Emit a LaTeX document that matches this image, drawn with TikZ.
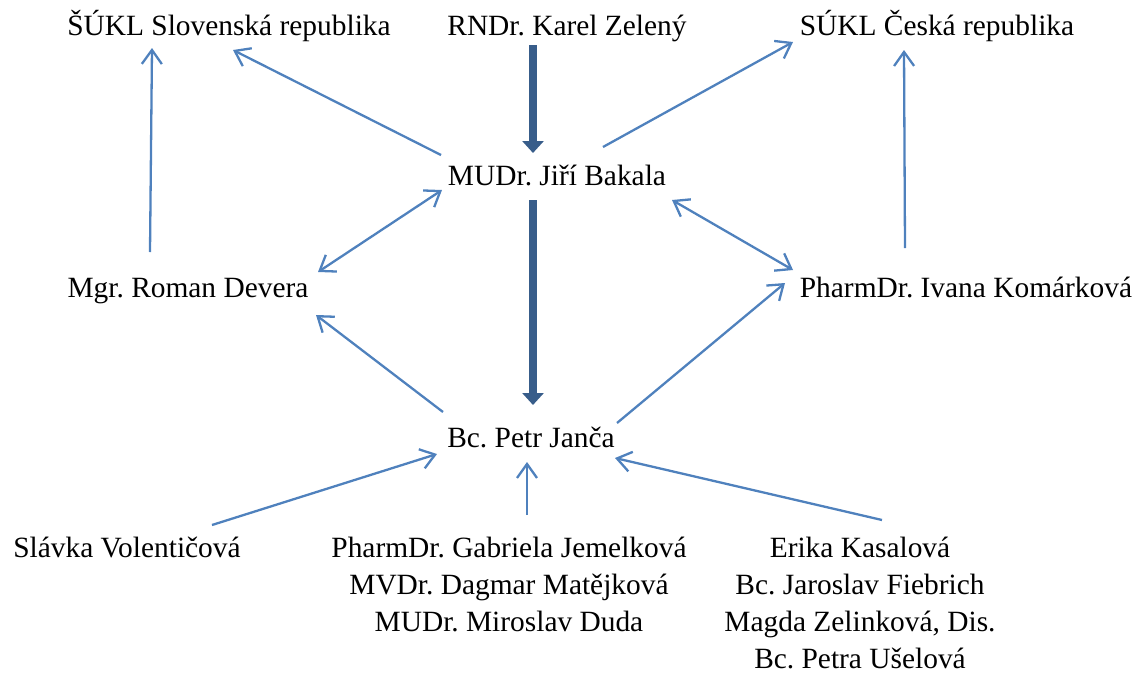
\documentclass[tikz,border=0pt]{standalone}
\usepackage{fontspec}
\setmainfont{Liberation Serif}
\frenchspacing
\usetikzlibrary{arrows.meta,calc}
\definecolor{linkblue}{RGB}{79,129,189}
\definecolor{mainblue}{RGB}{56,93,138}

\begin{document}
\begin{tikzpicture}[x=0.5pt, y=-0.5pt,
  person/.style={anchor=base, inner sep=0pt, align=center,
                 font=\fontsize{14.7}{18.5}\selectfont},
  link/.style={-{Straight Barb[length=7pt,width=10pt]}, draw=linkblue, line width=1.15pt},
  duallink/.style={link, {Straight Barb[length=7pt,width=10pt]}-{Straight Barb[length=7pt,width=10pt]}},
  flow/.style={-{Triangle[length=6pt,width=10.5pt]}, draw=mainblue, line width=4pt}
]
  \useasboundingbox (0,0) rectangle (1146,675);

  % ── TOP ROW ──
  \node[person] (sk)  at (229,35) {ŠÚKL Slovenská republika};
  \node[person] (kz)  at (567,35) {RNDr. Karel Zelený};
  \node[person] (cr)  at (937,35) {SÚKL Česká republika};

  % ── MIDDLE ──
  \node[person] (bak) at (557,185) {MUDr. Jiří Bakala};
  \node[person] (dev) at (188,297) {Mgr. Roman Devera};
  \node[person] (kom) at (966,297) {PharmDr. Ivana Komárková};
  \node[person] (jan) at (531,447) {Bc. Petr Janča};

  % ── BOTTOM ROW (base = last line) ──
  \node[person] (vol) at (127,557) {Slávka Volentičová};
  \node[person] (mid) at (509,631) {PharmDr. Gabriela Jemelková\\
    MVDr. Dagmar Matějková\\ MUDr. Miroslav Duda};
  \node[person] (rgt) at (860,668) {Erika Kasalová\\ Bc. Jaroslav Fiebrich\\
    Magda Zelinková, Dis.\\ Bc. Petra Ušelová};

  % thick chain
  \draw[flow] ($(kz.base)+(-34,10)$) -- ($(bak.base)+(-24,-32)$);
  \draw[flow] ($(bak.base)+(-24,15)$) -- ($(jan.base)+(2,-42)$);

  % upward links
  \draw[link] ($(dev.base)+(-38,-45)$) -- ($(sk.base)+(-77,13)$);
  \draw[link] ($(bak.base)+(-116,-30)$) -- ($(sk.base)+(4,15)$);
  \draw[link] ($(bak.base)+(46,-38)$) -- ($(cr.base)+(-144,7)$);
  \draw[link] ($(kom.base)+(-61,-49)$) -- ($(cr.base)+(-33,15)$);
  \draw[duallink] ($(bak.base)+(-115,5)$) -- ($(dev.base)+(130,-25)$);
  \draw[duallink] ($(bak.base)+(115,15)$) -- ($(kom.base)+(-173,-27)$);
  \draw[link] ($(jan.base)+(-88,-35)$) -- ($(dev.base)+(128,18)$);
  \draw[link] ($(jan.base)+(86,-24)$) -- ($(kom.base)+(-181,-14)$);

  % into Janča
  \draw[link] ($(vol.base)+(85,-32)$) -- ($(jan.base)+(-94,7)$);
  \draw[link] ($(mid.base)+(18,-116)$) -- ($(jan.base)+(-4,15)$);
  \draw[link] ($(rgt.base)+(22,-148)$) -- ($(jan.base)+(84,11)$);
\end{tikzpicture}
\end{document}
